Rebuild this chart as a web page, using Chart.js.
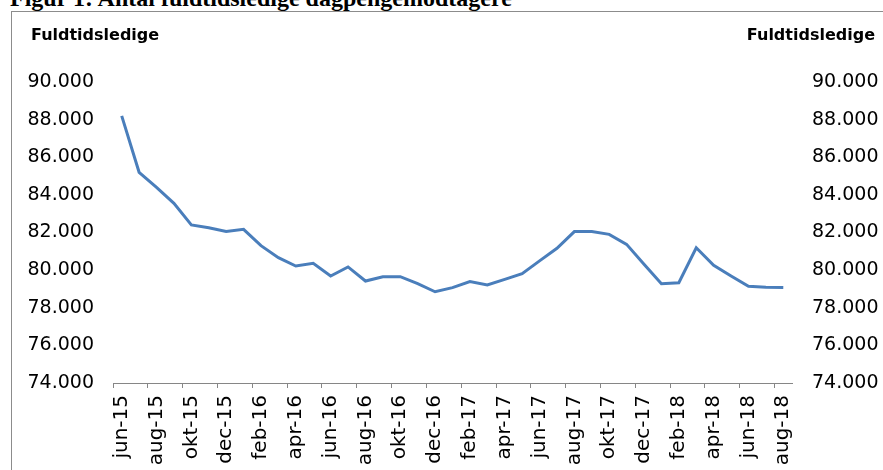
<!DOCTYPE html>
<html lang="da">
<head>
    <meta charset="UTF-8">
    <title>Figur 1: Antal fuldtidsledige dagpengemodtagere</title>
    <script src="https://cdn.jsdelivr.net/npm/chart.js"></script>
    <style>
        html, body {
            margin: 0;
            padding: 0;
            background: #fff;
            overflow: hidden;
        }
        .wrap {
            position: relative;
            width: 883px;
            height: 470px;
        }
        .title {
            position: absolute;
            left: 10px;
            top: -14px;
            font-family: 'Liberation Serif', 'Times New Roman', serif;
            font-weight: bold;
            font-size: 24px;
            line-height: 24px;
            white-space: nowrap;
            color: #000;
        }
        .frame {
            position: absolute;
            left: 11px;
            top: 11px;
            width: 900px;
            height: 500px;
            border-left: 1px solid #8c8c8c;
            border-top: 1px solid #8c8c8c;
        }
        canvas {
            position: absolute;
            left: 0;
            top: 0;
        }
    </style>
</head>
<body>
    <div class="wrap">
        <div class="title">Figur 1: Antal fuldtidsledige dagpengemodtagere</div>
        <div class="frame"></div>
        <canvas id="chart" width="883" height="470"></canvas>
    </div>

    <script>
        // jun-15 .. aug-18, monthly
        const months = ['jan', 'feb', 'mar', 'apr', 'maj', 'jun', 'jul', 'aug', 'sep', 'okt', 'nov', 'dec'];
        const labels = [];
        for (let i = 0; i < 39; i++) {
            const m = (5 + i) % 12;
            const y = 15 + Math.floor((5 + i) / 12);
            labels.push(months[m] + '-' + y);
        }

        const ledige = [
            88200, 85200, 84400, 83550, 82400, 82250, 82050, 82170, 81300, 80660,
            80220, 80360, 79690, 80170, 79420, 79650, 79650, 79280, 78850, 79070,
            79390, 79210, 79510, 79810, 80490, 81160, 82050, 82050, 81900, 81370,
            80310, 79280, 79330, 81190, 80260, 79690, 79140, 79090, 79070
        ];

        const yMin = 74000;
        const yMax = 90000;
        const yStep = 2000;
        const axisTitle = 'Fuldtidsledige';

        function fmt(v) {
            return Math.floor(v / 1000) + '.' + String(v % 1000).padStart(3, '0');
        }

        const yFont = { family: "'DejaVu Sans', Verdana, sans-serif", size: 19 };
        const xFont = { family: "'DejaVu Sans', Verdana, sans-serif", size: 20 };

        // draws the two "Fuldtidsledige" headings above the axes
        const headings = {
            id: 'headings',
            afterDraw(chart) {
                const ctx = chart.ctx;
                ctx.save();
                ctx.font = "bold 16px 'DejaVu Sans', Verdana, sans-serif";
                ctx.fillStyle = '#000';
                ctx.textBaseline = 'alphabetic';
                ctx.textAlign = 'left';
                ctx.fillText(axisTitle, 31, 40);
                ctx.textAlign = 'right';
                ctx.fillText(axisTitle, 875, 40);
                ctx.restore();
            }
        };

        const ctx = document.getElementById('chart').getContext('2d');
        new Chart(ctx, {
            type: 'line',
            data: {
                labels: labels,
                datasets: [{
                    label: axisTitle,
                    data: ledige,
                    borderColor: '#4a7ebb',
                    borderWidth: 3,
                    pointRadius: 0,
                    tension: 0,
                    fill: false,
                    yAxisID: 'y'
                }]
            },
            options: {
                responsive: false,
                animation: false,
                layout: { padding: { top: 82, left: 0, right: 0, bottom: 0 } },
                plugins: {
                    legend: { display: false },
                    tooltip: { enabled: false }
                },
                scales: {
                    x: {
                        offset: true,
                        grid: {
                            offset: true,
                            drawOnChartArea: false,
                            drawTicks: true,
                            tickLength: 5,
                            color: c => (c.index !== undefined && c.index % 2 === 0) ? '#868686' : 'rgba(0,0,0,0)'
                        },
                        border: { color: '#868686', width: 1 },
                        ticks: {
                            autoSkip: false,
                            minRotation: 90,
                            maxRotation: 90,
                            padding: 7,
                            color: '#000',
                            font: xFont,
                            callback: (v, i) => i % 2 === 0 ? labels[i] : ''
                        },
                        afterFit: s => { s.height = 87; }
                    },
                    y: {
                        position: 'left',
                        min: yMin,
                        max: yMax,
                        grid: { display: false, drawTicks: false },
                        border: { display: false },
                        ticks: {
                            stepSize: yStep,
                            padding: 19,
                            color: '#000',
                            font: yFont,
                            callback: v => fmt(v)
                        },
                        afterFit: s => { s.width = 113; }
                    },
                    y2: {
                        position: 'right',
                        min: yMin,
                        max: yMax,
                        grid: { display: false, drawTicks: false },
                        border: { display: false },
                        ticks: {
                            stepSize: yStep,
                            padding: 20,
                            color: '#000',
                            font: yFont,
                            callback: v => fmt(v)
                        },
                        afterFit: s => { s.width = 91; }
                    }
                }
            },
            plugins: [headings]
        });
    </script>
</body>
</html>
